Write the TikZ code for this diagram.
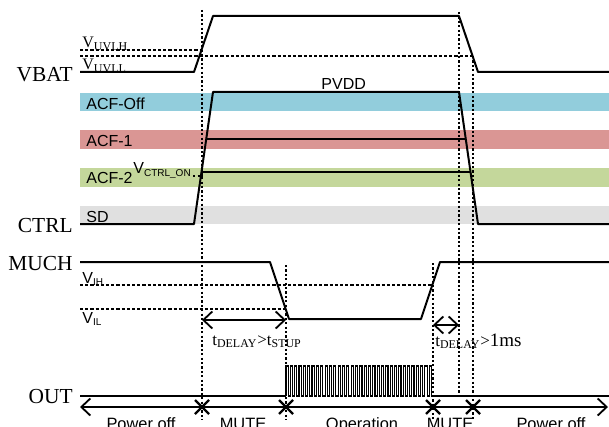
\documentclass[tikz,border=0pt]{standalone}
\usepackage{fontspec}
\setmainfont{Liberation Serif}
\setsansfont{Liberation Sans}
\usetikzlibrary{arrows.meta,calc}
\definecolor{bandoff}{HTML}{92CDDC}
\definecolor{bandone}{HTML}{DA9694}
\definecolor{bandtwo}{HTML}{C4D79B}
\definecolor{bandsd}{HTML}{E0E0E0}
\newcommand{\tinysub}[1]{\raisebox{-0.25ex}{\fontsize{5}{5}\selectfont #1}}

\begin{document}
\begin{tikzpicture}[x=0.5pt, y=-0.5pt,
    sig/.style={line width=1pt, line join=round},
    lvl/.style={line width=0.8pt, dash pattern=on 1.6pt off 1pt},
    guide/.style={line width=0.9pt, dash pattern=on 1.1pt off 1.1pt},
    barbs/.style={line width=0.9pt, {Straight Barb[length=4.5pt,width=8.5pt]}-{Straight Barb[length=4.5pt,width=8.5pt]}},
    cross/.style={line width=1.1pt},
    signame/.style={font=\fontsize{10.7}{12}\selectfont, anchor=base east, inner sep=0pt},
    bandlbl/.style={font=\sffamily\fontsize{8}{9}\selectfont, anchor=base west, inner sep=0pt},
    thr/.style={font=\fontsize{8}{9}\selectfont, anchor=base west, inner sep=0pt},
    sflbl/.style={font=\sffamily\fontsize{8}{9}\selectfont, anchor=base west, inner sep=0pt},
    phase/.style={font=\sffamily\fontsize{8.2}{9}\selectfont, anchor=base, inner sep=0pt},
  ]
  \useasboundingbox (0,0) rectangle (609,427);

  % ACF bands
  \fill[bandoff] (80,93) rectangle (609,111);
  \fill[bandone] (80,130) rectangle (609,149);
  \fill[bandtwo] (80,168) rectangle (609,187);
  \fill[bandsd]  (80,206) rectangle (609,224);
  \node[bandlbl] (acfoff) at (86,110) {ACF-Off};
  \node[bandlbl] (acfone) at (86,147) {ACF-1};
  \node[bandlbl] (acftwo) at (86,184) {ACF-2};
  \node[bandlbl] (sd)     at (86,222) {SD};

  % signal names
  \node[signame] (vbat) at (73,82)  {VBAT};
  \node[signame] (ctrl) at (73,232) {CTRL};
  \node[signame] (much) at (73,270) {MUCH};
  \node[signame] (out)  at (73,403) {OUT};

  % VBAT with UVLO thresholds
  \draw[lvl] (80,50) -- (202,50);
  \draw[lvl] (80,56) -- (473,56);
  \node[thr] (uvlh) at (82,48) {V\textsubscript{UVLH}};
  \node[thr] (uvll) at (82,70) {V\textsubscript{UVLL}};
  \draw[sig] (80,72) -- (194,72) -- (213,16) -- (459,16) -- (478,72) -- (609,72);

  % CTRL / PVDD
  \coordinate (c0) at (194,224);
  \coordinate (c1) at (213,92);
  \coordinate (c2) at (459,92);
  \coordinate (c3) at (478,224);
  \draw[sig] (80,224) -- (c0) -- (c1) -- (c2) -- (c3) -- (609,224);
  \draw[sig] ($(c0)!0.644!(c1)$) -- ($(c3)!0.644!(c2)$);
  \draw[sig] ($(c0)!0.394!(c1)$) -- ($(c3)!0.394!(c2)$);
  \node[sflbl] (pvdd) at (321,90) {PVDD};
  \node[sflbl] (vctrl) at (133,174) {V\tinysub{CTRL\_ON}};
  \draw[guide] (vctrl.base east) ++(2,2) -- (202,176);

  % MUCH with input thresholds
  \draw[lvl] (80,285) -- (433,285);
  \draw[lvl] (80,309) -- (286,309);
  \node[sflbl] (vih) at (82,283) {V\tinysub{IH}};
  \node[sflbl] (vil) at (82,323) {V\tinysub{IL}};
  \draw[sig] (80,262) -- (270,262) -- (289,319) -- (421,319) -- (440,262) -- (609,262);

  % OUT
  \draw[sig] (80,396) -- (286,396);
  \draw[line width=0.55pt] (286,396) \foreach \i in {1,...,34} {
      -- ++(0,-30) -- ++(2.17,0) -- ++(0,30) -- ++(2.17,0) };
  \draw[sig] (433,396) -- (609,396);

  % timing guides
  \draw[guide] (202,10) -- (202,420);
  \draw[guide] (459,12) -- (459,395);
  \draw[guide] (473,56) -- (473,420);
  \draw[guide] (286,265) -- (286,420);
  \draw[guide] (433,263) -- (433,420);

  % delays
  \coordinate (d0) at (202,320);
  \coordinate (d1) at (286,320);
  \coordinate (d2) at (433,325);
  \coordinate (d3) at (459,325);
  \draw[barbs] (d0) -- (d1);
  \draw[barbs] (d2) -- (d3);
  \node[thr, font=\fontsize{8.5}{9}\selectfont] (tstup) at (212,345)
    {t\textsubscript{DELAY}>t\textsubscript{STUP}};
  \node[thr, font=\fontsize{8.5}{9}\selectfont] (tms) at (435,346)
    {t\textsubscript{DELAY}>\fontsize{9.5}{10}\selectfont 1ms};

  % phase axis
  \coordinate (a0) at (80,407);
  \coordinate (a1) at (608,407);
  \draw[barbs] (a0) -- (a1);
  \foreach \x in {202,286,433,473}
    \draw[cross] (\x-7,400) -- (\x+7,414) (\x-7,414) -- (\x+7,400);
  \node[phase] (poff1) at (141,429) {Power off};
  \node[phase] (mute1) at (243,429) {MUTE};
  \node[phase] (oper)  at (362,429) {Operation};
  \node[phase] (mute2) at (450,429) {MUTE};
  \node[phase] (poff2) at (551,429) {Power off};
\end{tikzpicture}
\end{document}
